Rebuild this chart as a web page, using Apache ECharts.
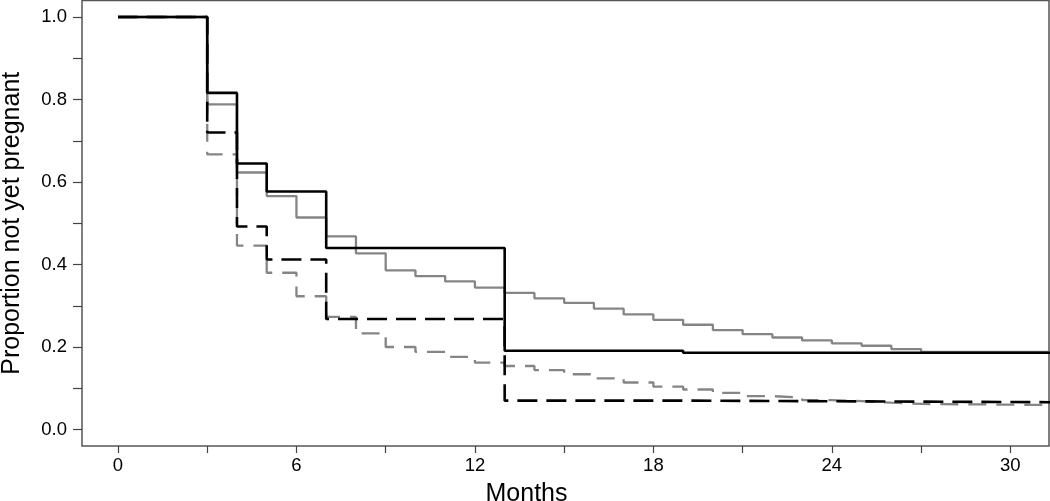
<!DOCTYPE html>
<html>
<head>
<meta charset="utf-8">
<script src="https://cdn.jsdelivr.net/npm/echarts@6/dist/echarts.min.js"></script>
<style>html,body{margin:0;padding:0;background:#fff}#c{width:1050px;height:501px}</style>
</head>
<body>
<div id="c"></div>
<script>
// Black solid
const tBlackSolid = [0, 3, 4, 5, 7, 13, 19, 32];
const vBlackSolid = [1, 0.816, 0.645, 0.577, 0.44, 0.191, 0.186, 0.186];
// Gray solid
const tGraySolid = [0, 3, 4, 5, 6, 7, 8, 9, 10, 11, 12, 13, 14, 15, 16, 17, 18, 19, 20, 21, 22, 23, 24, 25, 26, 27, 32];
const vGraySolid = [1, 0.788, 0.623, 0.566, 0.514, 0.468, 0.427, 0.386, 0.372, 0.359, 0.344, 0.331, 0.318, 0.307, 0.293, 0.279, 0.266, 0.254, 0.241, 0.231, 0.223, 0.216, 0.209, 0.203, 0.195, 0.188, 0.188];
// Black dashed
const tBlackDashed = [0, 3, 4, 5, 7, 13, 19, 32];
const vBlackDashed = [1, 0.72, 0.492, 0.412, 0.268, 0.07, 0.066, 0.066];
// Gray dashed
const tGrayDashed = [0, 3, 4, 5, 6, 7, 8, 9, 10, 11, 12, 13, 14, 15, 16, 17, 18, 19, 20, 21, 22, 23, 24, 25, 26, 27, 32];
const vGrayDashed = [1, 0.667, 0.446, 0.38, 0.323, 0.273, 0.233, 0.2, 0.188, 0.176, 0.162, 0.154, 0.144, 0.134, 0.124, 0.114, 0.104, 0.097, 0.089, 0.081, 0.077, 0.071, 0.069, 0.065, 0.062, 0.059, 0.059];

const xLabelValues = [0, 6, 12, 18, 24, 30];
const xTickValues = [0, 3, 6, 9, 12, 15, 18, 21, 24, 27, 30];
const yLabelValues = [0, 0.2, 0.4, 0.6, 0.8, 1.0];
const yTickValues = [0, 0.1, 0.2, 0.3, 0.4, 0.5, 0.6, 0.7, 0.8, 0.9, 1.0];

const xTitle = 'Months';
const yTitle = 'Proportion not yet pregnant';

function pairs(t, v) { return t.map((x, i) => [x, v[i]]); }

const GRAY = '#858585';
const FONT = 'Liberation Sans, Arial, sans-serif';

const chart = echarts.init(document.getElementById('c'), null, {renderer: 'canvas'});
chart.setOption({
  animation: false,
  backgroundColor: '#fff',
  grid: {left: 82, right: 1, top: 0.5, bottom: 55, containLabel: false, outerBoundsMode: 'none',
    show: true, borderColor: '#555', borderWidth: 1.5, backgroundColor: 'transparent'},
  xAxis: {
    type: 'value', min: -1.21, max: 31.3,
    name: xTitle, nameLocation: 'middle', nameGap: 36,
    nameTextStyle: {fontFamily: FONT, fontSize: 25, color: '#000', padding: [0, 78, 0, 0]},
    axisLine: {show: false, onZero: false},
    splitLine: {show: false},
    axisTick: {show: true, length: 7, customValues: xTickValues, lineStyle: {color: '#444', width: 1.2}},
    axisLabel: {customValues: xLabelValues, margin: 10, fontFamily: FONT, fontSize: 18.5, color: '#000'}
  },
  yAxis: {
    type: 'value', min: -0.04, max: 1.04,
    name: yTitle, nameLocation: 'middle', nameGap: 57, nameRotate: 90,
    nameTextStyle: {fontFamily: FONT, fontSize: 25, color: '#000'},
    axisLine: {show: false, onZero: false},
    splitLine: {show: false},
    axisTick: {show: true, length: 9, customValues: yTickValues, lineStyle: {color: '#444', width: 1.2}},
    axisLabel: {customValues: yLabelValues, margin: 15, fontFamily: FONT, fontSize: 18.5, color: '#000',
      formatter: v => v.toFixed(1)}
  },
  series: [
    {type: 'line', step: 'end', data: pairs(tGrayDashed, vGrayDashed), showSymbol: false, clip: true,
      lineStyle: {color: GRAY, width: 2.3, type: [18, 10]}},
    {type: 'line', step: 'end', data: pairs(tGraySolid, vGraySolid), showSymbol: false, clip: true,
      lineStyle: {color: GRAY, width: 2.3}},
    {type: 'line', step: 'end', data: pairs(tBlackDashed, vBlackDashed), showSymbol: false, clip: true,
      lineStyle: {color: '#000', width: 2.6, type: [20, 9]}},
    {type: 'line', step: 'end', data: pairs(tBlackSolid, vBlackSolid), showSymbol: false, clip: true,
      lineStyle: {color: '#000', width: 2.6}}
  ]
});
</script>
</body>
</html>
